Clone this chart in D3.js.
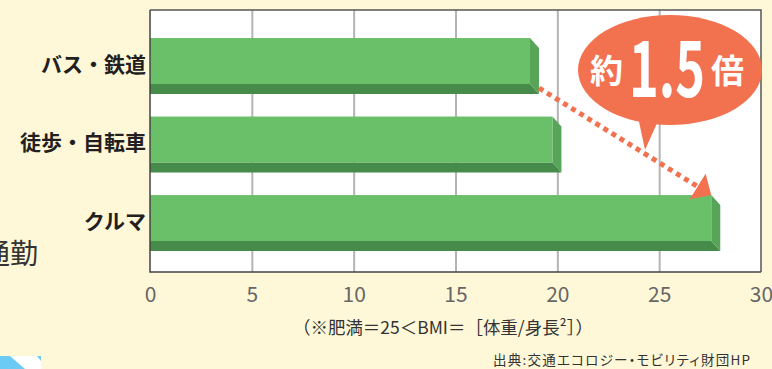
<!DOCTYPE html>
<html>
<head>
<meta charset="utf-8">
<script src="https://cdn.jsdelivr.net/npm/d3@7"></script>
<style>
body { margin: 0; background: #fff8d8; }
svg { display: block; font-family: "Noto Sans CJK JP", "Noto Sans", sans-serif; }
</style>
</head>
<body>
<div id="chart"></div>
<script>
var width = 772, height = 369;

// data (obesity rate %, by commute mode)
var categories = ["バス・鉄道", "徒歩・自転車", "クルマ"]
var values = [19.1, 20.2, 28.0]
var xTicks = [0, 5, 10, 15, 20, 25, 30]

var note = "（※肥満＝25＜BMI＝［体重/身長²］）"
var source = "出典:交通エコロジー・モビリティ財団HP"

var plotLeft = 150, plotRight = 761, plotTop = 10, plotBottom = 272
var depthX = 9, depthY = 10

var svg = d3.select("#chart").append("svg")
    .attr("width", width)
    .attr("height", height)

svg.append("rect")
    .attr("width", width).attr("height", height)
    .attr("fill", "#fff8d8")

//Set scales
var xScale = d3.scaleLinear().domain([0, 30]).range([plotLeft, plotRight])
var yScale = d3.scaleBand().domain(categories).range([26.8, 262.3]).paddingInner(0.2866).paddingOuter(0.143)

// plot background
svg.append("rect")
    .attr("x", plotLeft).attr("y", plotTop)
    .attr("width", plotRight - plotLeft).attr("height", plotBottom - plotTop)
    .attr("fill", "#fff")

//grid lines
var grid = svg.append("g")
    .attr("transform", "translate(0," + plotBottom + ")")
    .call(d3.axisBottom(xScale).tickValues(xTicks.slice(1, -1)).tickSize(-(plotBottom - plotTop)).tickFormat(""))
grid.select(".domain").remove()
grid.selectAll("line").attr("stroke", "#b4b4b4").attr("stroke-width", 2)

//Append bars (3D look: front, bottom, side)
var bars = svg.selectAll(".bar")
    .data(categories)
    .enter().append("g")
    .attr("class", "bar")

bars.append("polygon")
    .attr("fill", "#468b4a")
    .attr("points", function(d, i) {
        var x1 = xScale(values[i]), y0 = yScale(d), h = yScale.bandwidth()
        return [[plotLeft, y0 + h - depthY], [x1 - depthX, y0 + h - depthY], [x1, y0 + h], [plotLeft, y0 + h]].join(" ")
    })

bars.append("polygon")
    .attr("fill", "#58a55a")
    .attr("points", function(d, i) {
        var x1 = xScale(values[i]), y0 = yScale(d), h = yScale.bandwidth()
        return [[x1 - depthX, y0], [x1, y0 + depthY], [x1, y0 + h], [x1 - depthX, y0 + h - depthY]].join(" ")
    })

bars.append("rect")
    .attr("fill", "#6abf69")
    .attr("x", plotLeft)
    .attr("y", d => yScale(d))
    .attr("width", (d, i) => xScale(values[i]) - depthX - plotLeft)
    .attr("height", yScale.bandwidth() - depthY)

//frame
svg.append("path")
    .attr("d", "M" + plotLeft + "," + plotTop + "H" + plotRight + "V" + plotBottom)
    .attr("fill", "none").attr("stroke", "#555").attr("stroke-width", 1.5)
svg.append("path")
    .attr("d", "M" + plotLeft + "," + plotTop + "V" + plotBottom + "H" + plotRight)
    .attr("fill", "none").attr("stroke", "#444").attr("stroke-width", 1.5)

//category labels
svg.selectAll(".cat")
    .data(categories)
    .enter().append("text")
    .attr("class", "cat")
    .attr("x", plotLeft - 4)
    .attr("y", d => yScale(d) + 24.5)
    .attr("text-anchor", "end")
    .attr("dominant-baseline", "central")
    .style("font-size", "21px")
    .style("font-weight", "bold")
    .style("fill", "#231f20")
    .text(d => d)

//x axis labels
var xAxis = svg.append("g")
    .attr("transform", "translate(0," + plotBottom + ")")
    .call(d3.axisBottom(xScale).tickValues(xTicks).tickSize(0).tickPadding(15))
xAxis.select(".domain").remove()
xAxis.selectAll("text")
    .style("font-family", "'Noto Sans CJK JP', sans-serif")
    .style("font-size", "21px")
    .style("fill", "#666")

svg.append("text")
    .attr("x", 293).attr("y", 334)
    .attr("textLength", 300).attr("lengthAdjust", "spacingAndGlyphs")
    .style("font-size", "17.5px")
    .style("fill", "#333")
    .text(note)

svg.append("text")
    .attr("x", 493).attr("y", 365)
    .attr("textLength", 257)
    .style("font-size", "13.5px")
    .style("font-feature-settings", "'palt'")
    .style("fill", "#333")
    .text(source)

// cut-off text and corner decoration from the page
svg.append("text")
    .attr("x", 38).attr("y", 264)
    .attr("text-anchor", "end")
    .style("font-size", "28px")
    .style("fill", "#333")
    .text("通勤")

svg.append("rect")
    .attr("x", 0).attr("y", 356).attr("width", 41).attr("height", 13)
    .attr("fill", "#6ccbf5")
svg.append("polygon")
    .attr("points", "10,356 37,356 41,361 41,369 25,369")
    .attr("fill", "#fff")

//callout
var callout = svg.append("g")
callout.append("ellipse")
    .attr("cx", 670).attr("cy", 70).attr("rx", 92).attr("ry", 55)
    .attr("fill", "#f2714f")
callout.append("polygon")
    .attr("points", "637,112 662,112 645,150")
    .attr("fill", "#f2714f")
callout.append("text")
    .attr("x", 590).attr("y", 83)
    .style("font-size", "33px").style("font-weight", "bold").style("fill", "#fff")
    .text("約")
callout.append("text")
    .attr("x", 629).attr("y", 97)
    .attr("textLength", 76).attr("lengthAdjust", "spacingAndGlyphs")
    .style("font-size", "78px").style("font-weight", "bold").style("fill", "#fff")
    .text("1.5")
callout.append("text")
    .attr("x", 711).attr("y", 83)
    .style("font-size", "33px").style("font-weight", "bold").style("fill", "#fff")
    .text("倍")

//dotted arrow from bar 1 to bar 3
var b1 = categories[0], b3 = categories[2]
var sx = xScale(values[0]), sy = yScale(b1) + yScale.bandwidth() - 6
var tx = xScale(values[2]) - depthX, ty = yScale(b3)
var len = Math.hypot(tx - sx, ty - sy), ux = (tx - sx) / len, uy = (ty - sy) / len
var mx = tx - 16 * ux, my = ty - 16 * uy

svg.append("line")
    .attr("x1", sx).attr("y1", sy).attr("x2", mx).attr("y2", my)
    .attr("stroke", "#f2714f").attr("stroke-width", 5)
    .attr("stroke-dasharray", "5,4.5")

svg.append("polygon")
    .attr("points", [[tx, ty], [mx - 15 * uy, my + 15 * ux], [mx + 15 * uy, my - 15 * ux]].join(" "))
    .attr("fill", "#f2714f")
</script>
</body>
</html>
